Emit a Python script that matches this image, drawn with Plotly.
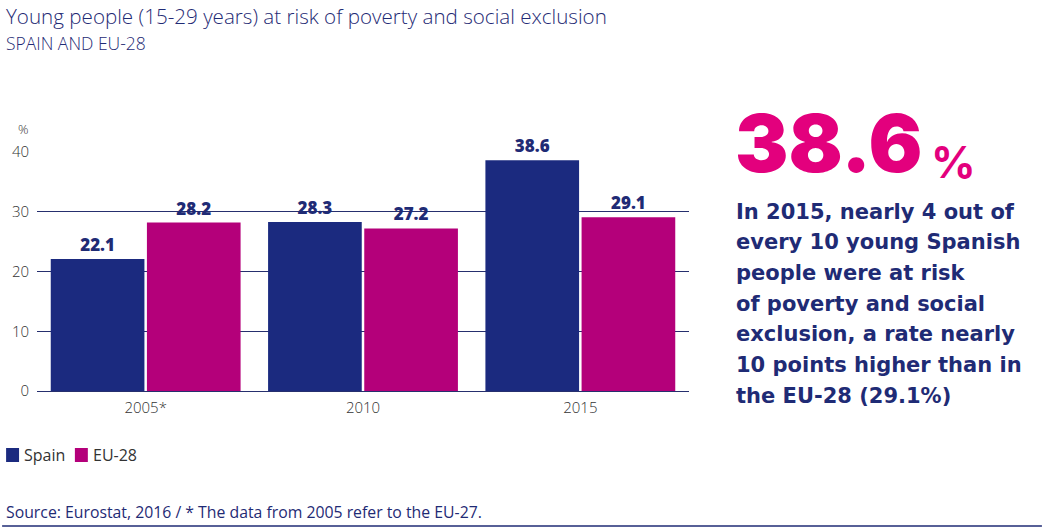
import plotly.graph_objects as go

# data
years = ['2005*', '2010', '2015']
spain = [22.1, 28.3, 38.6]
eu28 = [28.2, 27.2, 29.1]
series_names = ['Spain', 'EU-28']
y_ticks = [0, 10, 20, 30, 40]

comment_lines = [
    'In 2015, nearly 4 out of',
    'every 10 young Spanish',
    'people were at risk',
    'of poverty and social',
    'exclusion, a rate nearly',
    '10 points higher than in',
    'the EU-28 (29.1%)',
]

NAVY = '#1b2a7f'
MAGENTA = '#b4007a'
PINK = '#e3007d'
TEXT = '#1f2b75'
GRID = '#262f6e'
GREY = '#333333'
FONT = 'Open Sans'

W, H = 1049, 532
L, R, T, B = 35, 360, 152, 141
pw, ph = W - L - R, H - T - B


def px(x):
    return (x - L) / pw


def py(y):
    return (H - B - y) / ph


fig = go.Figure()
for name, vals, col in [(series_names[0], spain, NAVY), (series_names[1], eu28, MAGENTA)]:
    fig.add_trace(go.Bar(
        x=years, y=vals, name=name, marker_color=col, marker_line_width=0,
        texttemplate='%{y:.1f}', textposition='outside',
        textfont=dict(family=FONT, size=17, color=TEXT, weight=800),
        cliponaxis=False, showlegend=False,
    ))

fig.update_layout(
    width=W, height=H, autosize=False,
    margin=dict(l=L, r=R, t=T, b=B),
    paper_bgcolor='white', plot_bgcolor='white',
    barmode='group', bargap=0.115, bargroupgap=0.026,
    font=dict(family=FONT, color=GREY, size=14),
)
fig.update_xaxes(showgrid=False, showline=False, ticks='', range=[-0.5, 2.5],
                 tickfont=dict(family=FONT, size=15, color=GREY, weight=300),
                 ticklabelstandoff=6)
fig.update_yaxes(range=[0, 40], tickvals=y_ticks, showgrid=True, gridcolor=GRID, gridwidth=1.3,
                 zeroline=True, zerolinecolor=GRID, zerolinewidth=1.3,
                 showline=False, ticks='',
                 tickfont=dict(family=FONT, size=15, color=GREY, weight=300),
                 ticklabelstandoff=7)

ann = [
    dict(x=px(2), y=py(16), text='Young people (15-29 years) at risk of poverty and social exclusion',
         font=dict(size=20.6, color=TEXT, weight=300)),
    dict(x=px(2), y=py(43), text='SPAIN AND EU-28', font=dict(size=17.5, color=TEXT, weight=300)),
    dict(x=px(14), y=py(129), text='%', font=dict(size=13, color=GREY, weight=300)),
    dict(x=px(2), y=py(512), text='Source: Eurostat, 2016 / * The data from 2005 refer to the EU-27.',
         font=dict(size=15.8, color=TEXT, weight=500)),
]
for a in ann:
    fig.add_annotation(xref='paper', yref='paper', xanchor='left', yanchor='middle',
                       showarrow=False, **a)

# custom legend
leg_x = [4, 73]
for i, (name, col) in enumerate(zip(series_names, [NAVY, MAGENTA])):
    x0 = leg_x[i]
    fig.add_shape(type='rect', xref='paper', yref='paper', x0=px(x0), x1=px(x0 + 13),
                  y0=py(448), y1=py(462), fillcolor=col, line_width=0)
    fig.add_annotation(xref='paper', yref='paper', x=px(x0 + 16), y=py(455), xanchor='left',
                       yanchor='middle', showarrow=False, text=name,
                       font=dict(size=16, color=GREY))

# big number and comment
fig.add_annotation(xref='paper', yref='paper', x=px(733), y=py(142), xanchor='left', yanchor='middle',
                   showarrow=False, text=f'{spain[2]}',
                   font=dict(family='Inter', size=80, color=PINK, weight=900))
fig.add_annotation(xref='paper', yref='paper', x=px(930), y=py(162), xanchor='left', yanchor='middle',
                   showarrow=False, text='%',
                   font=dict(family='Inter', size=44, color=PINK, weight=700))
for i, line in enumerate(comment_lines):
    fig.add_annotation(xref='paper', yref='paper', x=px(734), y=py(211.5 + i * 30.7),
                       xanchor='left', yanchor='middle', showarrow=False, text=line,
                       font=dict(family='DejaVu Sans', size=21, color=TEXT, weight=700))

# bottom rule
fig.add_shape(type='line', xref='paper', yref='paper', x0=px(0), x1=px(1043), y0=py(526), y1=py(526),
              line=dict(color=TEXT, width=1.5))

fig.write_html('out.html', config={'displayModeBar': False},
               post_script="document.body.style.margin='0px';")
